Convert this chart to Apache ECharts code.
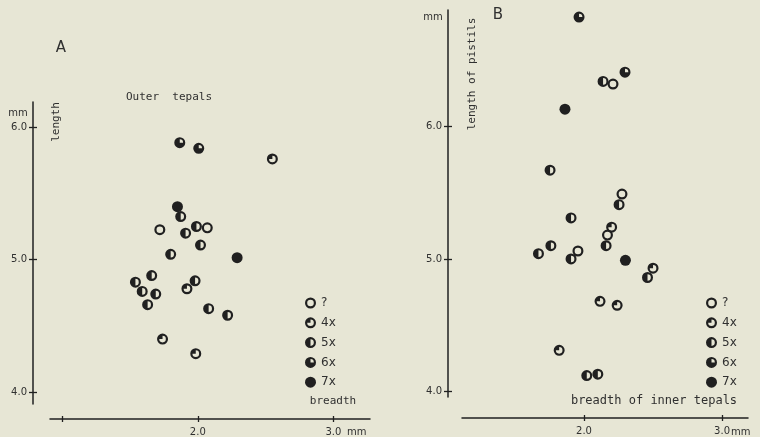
<!DOCTYPE html>
<html>
<head>
<meta charset="utf-8">
<script src="https://cdn.jsdelivr.net/npm/echarts@6/dist/echarts.min.js"></script>
<style>html,body{margin:0;padding:0;background:#e7e6d5;}#c{width:760px;height:437px;}</style>
</head>
<body>
<div id="c"></div>
<script>
// ---- data ----
const legendNames = ['?', '4x', '5x', '6x', '7x'];
const xTicksA = [1, 2, 3];
const xLabelsA = [2, 3];
const xTicksB = [2, 3];
const yTicks = [4, 5, 6];

// Panel A: breadth vs length of outer tepals
const A_unknown = [[1.72, 5.226], [2.07, 5.24]];
const A_4x = [[2.55, 5.76], [1.92, 4.78], [1.74, 4.40], [1.985, 4.29]];
const A_5x = [[1.874, 5.325], [1.91, 5.20], [1.99, 5.25], [2.02, 5.11], [1.80, 5.04], [1.66, 4.88],
  [1.54, 4.83], [1.59, 4.76], [1.69, 4.74], [1.63, 4.66], [1.98, 4.84], [2.08, 4.63], [2.22, 4.58]];
const A_6x = [[1.867, 5.883], [2.007, 5.84]];
const A_7x = [[1.85, 5.40], [2.29, 5.015]];

// Panel B: breadth of inner tepals vs length of pistils
const B_unknown = [[2.21, 6.32], [2.275, 5.49], [2.17, 5.18], [1.956, 5.06]];
const B_4x = [[2.20, 5.24], [2.50, 4.93], [2.116, 4.68], [2.24, 4.65], [1.82, 4.31]];
const B_5x = [[2.138, 6.34], [1.754, 5.67], [2.254, 5.41], [1.906, 5.31], [2.16, 5.10], [1.67, 5.04],
  [1.76, 5.10], [1.906, 5.00], [2.46, 4.86], [2.02, 4.12], [2.10, 4.13]];
const B_6x = [[1.964, 6.826], [2.297, 6.41]];
const B_7x = [[1.862, 6.13], [2.30, 4.99]];

// ---- styling ----
const ink = '#202020';
const txt = '#303030';
const font = 'DejaVu Sans';
const mono = 'DejaVu Sans Mono';
const outer = 'M10 0A10 10 0 1 1 10 20A10 10 0 1 1 10 0Z';
const symbols = {
  '?': 'path://' + outer + 'M10 4A6 6 0 1 0 10 16A6 6 0 1 0 10 4Z',
  '4x': 'path://' + outer + 'M10 10L4 10A6 6 0 1 0 10 4Z',
  '5x': 'path://' + outer + 'M10 4L10 16A6 6 0 0 0 10 4Z',
  '6x': 'path://' + outer + 'M10 10L16 10A6 6 0 0 0 10 4Z',
  '7x': 'path://' + outer
};
const dataA = { '?': A_unknown, '4x': A_4x, '5x': A_5x, '6x': A_6x, '7x': A_7x };
const dataB = { '?': B_unknown, '4x': B_4x, '5x': B_5x, '6x': B_6x, '7x': B_7x };

function series(panel, data) {
  return legendNames.map(n => ({
    type: 'scatter', name: n,
    xAxisIndex: panel * 2, yAxisIndex: panel * 2,
    data: data[n], symbol: symbols[n], symbolSize: 11, symbolKeepAspect: true,
    itemStyle: { color: ink, opacity: 1 },
    emphasis: { disabled: true }, silent: true
  }));
}

function xAxes(grid, min, max, ticks, labels, offset) {
  const base = {
    gridIndex: grid, type: 'value', min: min, max: max, position: 'bottom', offset: offset,
    splitLine: { show: false }
  };
  return [
    Object.assign({}, base, {
      axisLine: { show: true, lineStyle: { color: ink, width: 1.5 } },
      axisTick: { show: true, customValues: ticks, length: 3, lineStyle: { color: ink, width: 1.3 } },
      axisLabel: { customValues: labels, formatter: v => v.toFixed(1), margin: 8, fontSize: 10, color: txt, fontFamily: font }
    }),
    Object.assign({}, base, {
      axisLine: { show: false },
      axisTick: { show: true, inside: true, customValues: ticks, length: 3, lineStyle: { color: ink, width: 1.3 } },
      axisLabel: { show: false }
    })
  ];
}
function yAxes(grid, min, max, offset) {
  const base = {
    gridIndex: grid, type: 'value', min: min, max: max, position: 'left', offset: offset,
    splitLine: { show: false }
  };
  return [
    Object.assign({}, base, {
      axisLine: { show: true, lineStyle: { color: ink, width: 1.5 } },
      axisTick: { show: true, customValues: yTicks, length: 4, lineStyle: { color: ink, width: 1.3 } },
      axisLabel: { customValues: yTicks, formatter: v => v.toFixed(1), margin: 6, fontSize: 10, color: txt, fontFamily: font }
    }),
    Object.assign({}, base, {
      axisLine: { show: false },
      axisTick: { show: true, inside: true, customValues: yTicks, length: 4, lineStyle: { color: ink, width: 1.3 } },
      axisLabel: { show: false }
    })
  ];
}

function legend(left) {
  return {
    left: left, top: 292, orient: 'vertical', itemWidth: 11, itemHeight: 11, itemGap: 7.8,
    selectedMode: false,
    data: legendNames.map(n => ({ name: n, icon: symbols[n] })),
    textStyle: { fontSize: 12, color: txt, fontFamily: font, lineHeight: 11 }
  };
}

function label(text, x, y, opts) {
  return {
    type: 'text', x: x, y: y, rotation: (opts && opts.rot) || 0, silent: true,
    style: Object.assign({ text: text, fill: txt, font: ((opts && opts.size) || 10) + 'px "' + ((opts && opts.family) || font) + '"',
      textAlign: 'center', textVerticalAlign: 'middle' }, (opts && opts.style) || {})
  };
}

const chart = echarts.init(document.getElementById('c'));
chart.setOption({
  backgroundColor: '#e7e6d5',
  animation: false,
  grid: [
    { left: 50, top: 102, width: 320, height: 302 },
    { left: 462, top: 10, width: 286, height: 387 }
  ],
  xAxis: [].concat(xAxes(0, 0.91, 3.27, xTicksA, xLabelsA, 15), xAxes(1, 1.116, 3.188, xTicksB, xTicksB, 21)),
  yAxis: [].concat(yAxes(0, 3.91, 6.19, 17), yAxes(1, 3.958, 6.879, 14)),
  legend: [legend(300), legend(701)],
  series: [].concat(series(0, dataA), series(1, dataB)),
  graphic: [
    label('A', 61, 48, { size: 15 }),
    label('B', 498, 15, { size: 15 }),
    label('Outer  tepals', 169, 97, { size: 11, family: mono }),
    label('length', 56, 122, { size: 11, rot: Math.PI / 2, family: mono }),
    label('length of pistils', 472, 74, { size: 11, rot: Math.PI / 2, family: mono }),
    label('breadth', 333, 401, { size: 11, family: mono }),
    label('breadth of inner tepals', 654, 401, { size: 12, family: mono }),
    label('mm', 18, 113, { size: 10 }),
    label('mm', 433, 17, { size: 10 }),
    label('mm', 347, 432, { size: 10, style: { textAlign: 'left' } }),
    label('mm', 731, 432, { size: 10, style: { textAlign: 'left' } })
  ]
});
</script>
</body>
</html>
